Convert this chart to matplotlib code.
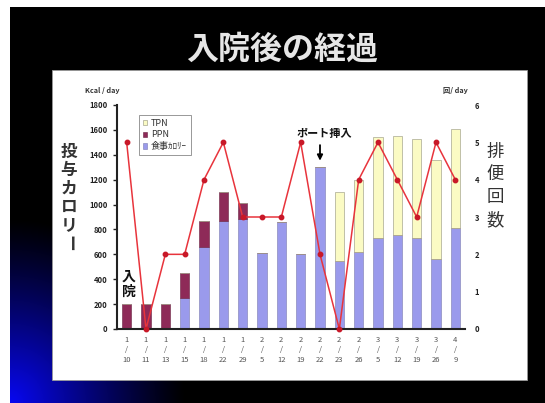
import numpy as np
import matplotlib
matplotlib.use('Agg')
import matplotlib.pyplot as plt
from matplotlib.patches import Rectangle, Patch

plt.rcParams['font.family'] = ['Noto Sans CJK JP', 'DejaVu Sans']

# dates (month, day)
months = ['1', '1', '1', '1', '1', '1', '1', '2', '2', '2', '2', '2', '2', '3', '3', '3', '3', '4']
days = ['10', '11', '13', '15', '18', '22', '29', '5', '12', '19', '22', '23', '26', '5', '12', '19', '26', '9']

# kcal / day
food = [0, 0, 0, 250, 660, 870, 880, 610, 860, 600, 1300, 550, 620, 730, 755, 730, 560, 815]
ppn = [200, 200, 200, 200, 210, 230, 130, 0, 0, 0, 0, 0, 0, 0, 0, 0, 0, 0]
tpn = [0, 0, 0, 0, 0, 0, 0, 0, 0, 0, 0, 550, 580, 810, 795, 800, 800, 795]

# bowel movements / day
bowel = [5, 0, 2, 2, 4, 5, 3, 3, 3, 5, 2, 0, 4, 5, 4, 3, 5, 4]

W, H = 545, 403
fig = plt.figure(figsize=(W / 100, H / 100), dpi=100)

# slide background: black with a blue glow in the lower-left corner
bg = np.ones((H, W, 3))
yy, xx = np.mgrid[0:H, 0:W]
d = np.sqrt(((xx - 10) / 175.0) ** 2 + ((H - yy) / 185.0) ** 2)
glow = np.clip(1 - d, 0, 1) ** 1.15
slide = np.zeros((H, W, 3))
slide[..., 0] = 0.03 * glow
slide[..., 1] = 0.03 * glow
slide[..., 2] = 0.95 * glow
mask = (xx >= 10) & (yy >= 7)
bg[mask] = slide[mask]
bax = fig.add_axes([0, 0, 1, 1])
bax.imshow(bg, extent=[0, W, H, 0], aspect='auto', interpolation='bilinear')
bax.axis('off')
bax.set_zorder(-2)

# white chart panel
fig.add_artist(Rectangle((52 / W, 1 - 380 / H), (527 - 52) / W, (380 - 70) / H,
                         transform=fig.transFigure, facecolor='white', edgecolor='#999999',
                         lw=0.6, zorder=-1))

fig.text(282 / W, 1 - 50 / H, '入院後の経過', fontsize=23, fontweight='bold',
         color='#e6e6e6', ha='center', va='center')

ax = fig.add_axes([117 / W, 1 - 329 / H, (465 - 117) / W, (329 - 105) / H])
ax.set_facecolor('none')
x = np.arange(len(days))
food = np.array(food)
ppn = np.array(ppn)
tpn = np.array(tpn)

bw = 0.48
ax.bar(x, food, bw, color='#9a9aec', edgecolor='#7a7ab0', lw=0.4)
ax.bar(x, ppn, bw, bottom=food, color='#8e2a58', edgecolor='#6a2040', lw=0.4)
ax.bar(x, tpn, bw, bottom=food + ppn, color='#fbfbc4', edgecolor='#a8a890', lw=0.5)

ax.set_xlim(-0.5, len(days) - 0.5)
ax.set_ylim(0, 1800)
ax.set_yticks(range(0, 1801, 200))
ax.set_xticks(x)
ax.set_xticklabels([m + '\n/\n' + dd for m, dd in zip(months, days)],
                   fontsize=5.5, linespacing=1.35, color='#555555')
ax.tick_params(axis='x', length=0, pad=5)
ax.tick_params(axis='y', labelsize=5.5, colors='#222222', length=3, width=1, pad=4)
for lab in ax.get_yticklabels():
    lab.set_fontweight('bold')
for s in ['top', 'right']:
    ax.spines[s].set_visible(False)
ax.spines['left'].set_linewidth(1.5)
ax.spines['bottom'].set_linewidth(1.5)
ax.spines['left'].set_color('#222222')
ax.spines['bottom'].set_color('#222222')

ax2 = ax.twinx()
ax2.plot(x, bowel, color='#e8343c', lw=1.1, marker='o', ms=3.2,
         markerfacecolor='#c81828', markeredgecolor='#c81828', clip_on=False)
ax2.set_ylim(0, 6)
ax2.set_yticks(range(0, 7))
ax2.tick_params(axis='y', labelsize=5.5, colors='#222222', length=0, pad=7)
for lab in ax2.get_yticklabels():
    lab.set_fontweight('bold')
for s in ax2.spines.values():
    s.set_visible(False)

handles = [Patch(facecolor='#fbfbc4', edgecolor='#a8a890', lw=0.5),
           Patch(facecolor='#8e2a58', edgecolor='#6a2040', lw=0.4),
           Patch(facecolor='#9a9aec', edgecolor='#7a7ab0', lw=0.4)]
leg = ax2.legend(handles, ['TPN', 'PPN', '食事ｶﾛﾘｰ'], loc='upper left',
                 bbox_to_anchor=(0.05, 0.975), fontsize=6.5, handlelength=0.55,
                 handleheight=0.55, handletextpad=0.4, labelspacing=0.3,
                 borderpad=0.4, fancybox=False, framealpha=1, edgecolor='#888888')
leg.get_frame().set_linewidth(0.6)
for t in leg.get_texts():
    t.set_color('#333333')

# port insertion marker
ax.text(10.2, 1570, 'ポート挿入', fontsize=8, fontweight='bold', ha='center', va='center', color='#111111')
ax.annotate('', xy=(10, food[10] + 30), xytext=(10, 1500),
            arrowprops=dict(arrowstyle='-|>', color='black', lw=1.3, mutation_scale=8))
ax.text(0.12, 360, '入\n院', fontsize=10, fontweight='bold', ha='center', va='center',
        linespacing=1.05, color='#111111')

fig.text(85 / W, 1 - 91 / H, 'Kcal / day', fontsize=5.2, fontweight='bold', color='#333333',
         ha='left', va='center')
fig.text(443 / W, 1 - 91 / H, '回/ day', fontsize=5.2, fontweight='bold', color='#333333',
         ha='left', va='center')

# vertical axis titles
for i, ch in enumerate('投与カロリー'):
    fig.text(69 / W, 1 - (152 + 18.2 * i) / H, ch, fontsize=12, fontweight='bold',
             color='#333333', ha='center', va='center', rotation=-90 if ch == 'ー' else 0)
for i, ch in enumerate('排便回数'):
    fig.text(495 / W, 1 - (152 + 22.7 * i) / H, ch, fontsize=12.5,
             color='#333333', ha='center', va='center')

fig.savefig('out.png', dpi=100)
